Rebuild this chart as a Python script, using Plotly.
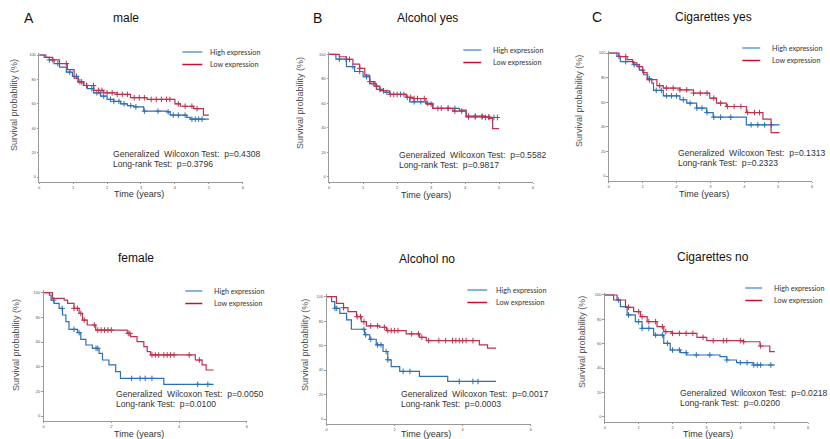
import numpy as np
import plotly.graph_objects as go

W, H = 830, 439
BLUE = "#2d6fb4"
RED = "#c0304e"
LEG_BLUE = "#5b9bd5"
LEG_RED = "#c8102e"
FONT = "Liberation Sans"

# ---------------- data (time in years, survival in %) ----------------
A_high_t = [0, 0.15, 0.3, 0.44, 0.6, 0.8, 0.98, 1.15, 1.3, 1.42, 1.6, 1.81, 2.0, 2.2, 2.4, 2.6, 2.79, 3.08, 3.77, 3.86, 4.35, 4.45, 5.0]
A_high_s = [100, 98, 96, 93, 90, 86, 82.5, 78, 75, 72.5, 69, 66.3, 63.6, 62, 60, 58.5, 57.5, 54, 53.4, 50.7, 48.8, 47.4, 47.4]
A_high_c = [0.3, 0.55, 0.9, 1.1, 1.25, 1.4, 1.55, 1.7, 1.8, 1.9, 2.1, 2.2, 2.35, 2.5, 2.7, 2.85, 3.1, 3.5, 3.8, 3.95, 4.1, 4.3, 4.5, 4.6, 4.7, 4.8]
A_low_t = [0, 0.2, 0.4, 0.6, 0.83, 1.03, 1.15, 1.32, 1.61, 1.9, 2.3, 2.69, 3.18, 4.0, 4.16, 4.55, 4.84, 5.0]
A_low_s = [100, 98, 96, 93, 88, 81, 78, 75, 71, 69, 67.7, 65, 63.6, 60, 58, 56, 50.7, 50.7]
A_low_c = [0.4, 0.8, 1.2, 1.4, 1.6, 1.75, 1.85, 2.0, 2.15, 2.3, 2.45, 2.6, 2.8, 2.95, 3.1, 3.3, 3.45, 3.6, 3.75, 3.85, 4.1, 4.3, 4.5, 4.65]

B_high_t = [0, 0.2, 0.51, 0.75, 1.0, 1.2, 1.39, 1.6, 1.78, 2.27, 2.37, 2.85, 3.05, 3.83, 4.03, 4.6, 5.0]
B_high_s = [100, 96, 90, 86, 81.7, 76, 71.4, 69, 67.3, 64.9, 61.3, 60, 55.9, 54.5, 49.6, 48.5, 48.5]
B_high_c = [0.3, 0.5, 0.7, 0.9, 1.1, 1.3, 1.5, 1.7, 1.9, 2.1, 2.3, 2.5, 2.7, 2.9, 3.2, 3.5, 3.7, 4.1, 4.3, 4.5, 4.6, 4.7, 4.85, 4.95]
B_low_t = [0, 0.3, 0.51, 0.7, 0.9, 1.05, 1.19, 1.35, 1.49, 1.78, 2.27, 2.46, 2.85, 3.05, 3.64, 4.03, 4.71, 4.81, 5.0]
B_low_s = [100, 98, 95.9, 92, 88.6, 83, 77.7, 74, 70.3, 67.3, 64.9, 64, 59.4, 56, 53.7, 49, 47.7, 39.5, 39.5]
B_low_c = [0.6, 0.9, 1.2, 1.4, 1.6, 1.8, 2.0, 2.2, 2.4, 2.5, 2.6, 2.8, 3.0, 3.3, 3.5, 3.7, 3.9, 4.1, 4.3, 4.5, 4.7]

C_high_t = [0, 0.24, 0.34, 0.73, 0.9, 1.03, 1.15, 1.27, 1.32, 1.61, 2.1, 2.3, 2.59, 2.89, 3.08, 4.06, 5.04]
C_high_s = [100, 97.3, 93, 90.5, 86, 82.3, 79, 75.5, 69.6, 65.2, 62, 59.2, 55.2, 51.6, 47.8, 41.6, 41.6]
C_high_c = [0.3, 0.5, 0.75, 1.0, 1.2, 1.4, 1.55, 1.7, 1.85, 2.0, 2.2, 2.4, 2.6, 2.75, 2.9, 3.1, 3.3, 3.6, 4.2, 4.4, 4.6, 4.8]
C_low_t = [0, 0.3, 0.54, 0.7, 0.83, 1.0, 1.13, 1.42, 1.61, 2.1, 2.5, 2.98, 3.18, 3.47, 4.06, 4.55, 4.79, 5.04]
C_low_s = [100, 97, 94.6, 92, 89, 84, 78.3, 73.4, 71.5, 70, 67.4, 63.3, 59.2, 56.5, 51.6, 46.2, 35.3, 35.3]
C_low_c = [0.5, 0.9, 1.2, 1.5, 1.7, 1.9, 2.1, 2.3, 2.5, 2.7, 2.9, 3.1, 3.3, 3.5, 3.7, 3.9, 4.1, 4.3, 4.45]

D_high_t = [0, 0.17, 0.22, 0.31, 0.46, 0.56, 0.66, 0.75, 1.0, 1.1, 1.25, 1.44, 1.64, 1.74, 1.93, 2.13, 2.27, 3.55, 5.02]
D_high_s = [100, 98, 94, 91.4, 87.3, 81.9, 76.5, 70.3, 67.6, 62.2, 57.6, 54.9, 50.8, 45.4, 41.4, 36, 30.5, 25.7, 25.7]
D_high_c = [0.3, 0.55, 0.9, 1.05, 1.55, 1.6, 2.6, 2.85, 3.0, 3.2, 4.55, 4.85]
D_low_t = [0, 0.26, 0.61, 0.71, 0.9, 1.05, 1.15, 1.29, 1.54, 2.47, 2.57, 2.76, 2.96, 3.06, 3.16, 4.48, 4.68, 4.8, 5.02]
D_low_s = [100, 95.4, 94, 91.4, 87.3, 83.2, 77.8, 73.8, 69.7, 67, 64.3, 60.3, 56.2, 52.2, 49.5, 45.4, 41.4, 37.3, 37.3]
D_low_c = [0.9, 1.0, 1.1, 1.2, 1.5, 1.6, 1.7, 1.8, 1.9, 2.0, 2.5, 2.55, 3.2, 3.3, 3.4, 3.55, 3.65, 3.75, 3.85, 4.3, 4.6]

E_high_t = [0, 0.15, 0.24, 0.39, 0.59, 0.73, 1.12, 1.27, 1.46, 1.66, 1.8, 1.9, 2.15, 2.73, 3.56, 4.98]
E_high_s = [100, 95.9, 90.5, 86.4, 81, 73.4, 68.9, 65.2, 60.6, 55.2, 48.4, 42.9, 38.9, 34.8, 30.7, 30.7]
E_high_c = [0.25, 0.3, 1.1, 1.15, 1.3, 1.5, 1.6, 1.75, 1.8, 2.25, 2.45, 3.9, 4.3, 4.45]
E_low_t = [0, 0.29, 0.5, 0.63, 0.88, 1.02, 1.17, 1.56, 1.76, 2.34, 2.73, 2.93, 4.49, 4.73, 4.98]
E_low_s = [100, 94.6, 91, 87.8, 83.7, 79.6, 76.1, 75, 72.3, 69.6, 66.8, 64.1, 60.6, 57.9, 57.9]
E_low_c = [0.5, 0.9, 1.0, 1.1, 1.3, 1.5, 1.7, 1.8, 1.9, 2.0, 2.1, 2.5, 2.7, 2.8, 3.0, 3.3, 3.5, 3.7, 3.8, 3.9, 4.0, 4.1, 4.3]

F_high_t = [0, 0.26, 0.46, 0.66, 0.9, 1.1, 1.44, 1.74, 1.93, 2.23, 2.42, 3.4, 3.6, 3.89, 4.38, 5.02]
F_high_s = [100, 95.9, 90.4, 83.6, 78.1, 72.6, 67.1, 60.3, 54.8, 52.6, 50.7, 49.3, 46.6, 44.4, 42.5, 42.5]
F_high_c = [0.4, 0.7, 1.0, 1.1, 1.3, 1.5, 1.7, 1.85, 2.0, 2.2, 2.4, 2.7, 3.1, 3.6, 4.0, 4.2, 4.4, 4.5, 4.6, 4.9]
F_low_t = [0, 0.36, 0.61, 0.85, 1.05, 1.25, 1.54, 1.74, 1.98, 2.72, 3.01, 4.09, 4.58, 4.87, 5.02]
F_low_s = [100, 95.9, 89.9, 86.3, 82.2, 78.1, 74, 69.9, 68.5, 65.2, 62.5, 61.6, 58.1, 53.4, 53.4]
F_low_c = [0.7, 1.0, 1.1, 1.3, 1.5, 1.7, 1.8, 2.0, 2.2, 2.4, 2.6, 2.9, 3.2, 3.5, 3.6, 4.0, 4.1, 4.6]

titles = ["male", "Alcohol yes", "Cigarettes yes", "female", "Alcohol no", "Cigarettes no"]
letters = ["A", "B", "C", "", "", ""]
wilcoxon_p = ["0.4308", "0.5582", "0.1313", "0.0050", "0.0017", "0.0218"]
logrank_p = ["0.3796", "0.9817", "0.2323", "0.0100", "0.0003", "0.0200"]
series_names = ["High expression", "Low expression"]
y_ticks = [0, 20, 40, 60, 80, 100]

# ---------------- layout geometry (pixels) ----------------
panels = [
    dict(hi=(A_high_t, A_high_s, A_high_c), lo=(A_low_t, A_low_s, A_low_c),
         x0=38.3, x6=242.7, y0=177, y100=55, dt=1,
         letter=(28, 18), title=(125, 18), xt=(138, 194.5), yt=(13, 105),
         stat=(110, 154), leg=(182, 202, 52, 208)),
    dict(hi=(B_high_t, B_high_s, B_high_c), lo=(B_low_t, B_low_s, B_low_c),
         x0=329.3, x6=534, y0=177, y100=54.3, dt=1,
         letter=(318, 18), title=(428, 18), xt=(427, 195), yt=(300, 103),
         stat=(397, 155), leg=(464, 482, 50, 492)),
    dict(hi=(C_high_t, C_high_s, C_high_c), lo=(C_low_t, C_low_s, C_low_c),
         x0=610, x6=814, y0=176, y100=53, dt=1,
         letter=(598, 17), title=(715, 17), xt=(706, 193.5), yt=(580, 101),
         stat=(677, 153), leg=(744, 762, 48, 772)),
    dict(hi=(D_high_t, D_high_s, D_high_c), lo=(D_low_t, D_low_s, D_low_c),
         x0=42.7, x6=246.7, y0=416, y100=292.7, dt=2,
         letter=None, title=(135, 258), xt=(138, 433.5), yt=(15, 345),
         stat=(113, 394), leg=(185, 202, 291, 212)),
    dict(hi=(E_high_t, E_high_s, E_high_c), lo=(E_low_t, E_low_s, E_low_c),
         x0=326.7, x6=531.7, y0=419, y100=296.7, dt=2,
         letter=None, title=(428, 259), xt=(427, 434), yt=(305, 345),
         stat=(399, 394), leg=(468, 488, 290, 495)),
    dict(hi=(F_high_t, F_high_s, F_high_c), lo=(F_low_t, F_low_s, F_low_c),
         x0=606, x6=810, y0=416.7, y100=295, dt=1,
         letter=None, title=(715, 257), xt=(710, 433.5), yt=(583, 342),
         stat=(679, 393), leg=(747, 764, 288, 774)),
]

YMIN, YMAX = -4, 102


def px(x):
    return x / W


def py(y):
    return 1 - y / H


def step_at(t, s, c):
    t = np.asarray(t, float)
    s = np.asarray(s, float)
    idx = np.searchsorted(t, np.asarray(c, float), side="right") - 1
    return s[np.clip(idx, 0, len(s) - 1)]


def note(text, x, y, size, color, xanchor="center", family=FONT, angle=0):
    return dict(text=text, x=px(x), y=py(y), xref="paper", yref="paper", showarrow=False,
                xanchor=xanchor, yanchor="middle", textangle=angle,
                font=dict(size=size, color=color, family=family))


fig = go.Figure()
layout = dict(
    width=W, height=H, margin=dict(l=0, r=0, t=0, b=0),
    paper_bgcolor="white", plot_bgcolor="white", showlegend=False,
    font=dict(family=FONT, color="#222"),
)
annotations = []
shapes = []

for i, p in enumerate(panels):
    n = "" if i == 0 else str(i + 1)
    xa, ya = "x" + n, "y" + n
    ppu = (p["y0"] - p["y100"]) / 100.0
    bottom = p["y0"] - YMIN * ppu
    top = p["y100"] - (YMAX - 100) * ppu
    axis_common = dict(showline=True, linecolor="#9a9a9a", linewidth=1, showgrid=False,
                       zeroline=False, ticks="outside", ticklen=1.5, tickwidth=1,
                       tickcolor="#9a9a9a", tickfont=dict(size=4, color="#555", family=FONT),
                       fixedrange=True)
    layout["xaxis" + n] = dict(axis_common, domain=[px(p["x0"]), px(p["x6"])], range=[0, 6],
                               tickmode="linear", tick0=0, dtick=p["dt"], anchor=ya)
    layout["yaxis" + n] = dict(axis_common, domain=[py(bottom), py(top)], range=[YMIN, YMAX],
                               tickmode="array", tickvals=y_ticks,
                               ticktext=[str(v) for v in y_ticks], anchor=xa)

    for (t, s, c), col, name in ((p["hi"], BLUE, series_names[0]), (p["lo"], RED, series_names[1])):
        fig.add_trace(go.Scatter(x=t, y=s, mode="lines", line=dict(color=col, width=1.2, shape="hv"),
                                 name=name, xaxis=xa, yaxis=ya, hoverinfo="skip"))
        fig.add_trace(go.Scatter(x=c, y=step_at(t, s, c), mode="markers", name=name,
                                 marker=dict(symbol="cross-thin", size=4, color=col,
                                             line=dict(width=1, color=col)),
                                 xaxis=xa, yaxis=ya, hoverinfo="skip"))

    if p["letter"]:
        annotations.append(note(letters[i], p["letter"][0], p["letter"][1], 14, "#111"))
    annotations.append(note(titles[i], p["title"][0], p["title"][1], 12, "#111"))
    annotations.append(note("Time (years)", p["xt"][0], p["xt"][1], 9, "#333"))
    annotations.append(note("Survival probability (%)", p["yt"][0], p["yt"][1], 9, "#555", angle=-90))
    sx, sy = p["stat"]
    annotations.append(note("Generalized  Wilcoxon Test:  p=" + wilcoxon_p[i], sx, sy, 8.6, "#333",
                            xanchor="left"))
    annotations.append(note("Long-rank Test:  p=" + logrank_p[i], sx, sy + 10, 8.6, "#333",
                            xanchor="left"))
    lx0, lx1, ly, tx = p["leg"]
    for k, col in enumerate((LEG_BLUE, LEG_RED)):
        yy = ly + 12.5 * k
        shapes.append(dict(type="line", xref="paper", yref="paper", x0=px(lx0), x1=px(lx1),
                           y0=py(yy), y1=py(yy), line=dict(color=col, width=1.5)))
        annotations.append(note(series_names[k], tx, yy, 7.2, "#333", xanchor="left", family="Lato"))

layout["annotations"] = annotations
layout["shapes"] = shapes
fig.update_layout(**layout)
fig.write_html("out.html")
